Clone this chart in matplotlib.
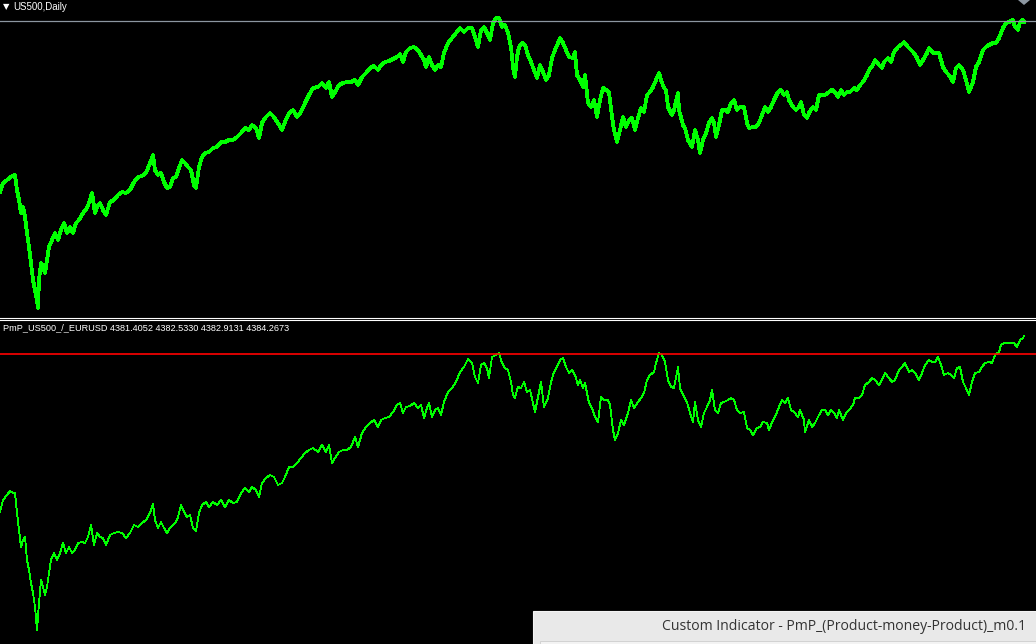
import matplotlib
matplotlib.use("Agg")
import matplotlib.pyplot as plt
from matplotlib.lines import Line2D
from matplotlib.patches import Rectangle, Polygon

# US500 daily closes (estimated), x = bar number from the left edge
top_day = [0, 3, 7, 12, 15, 17, 19, 21, 23, 25, 27, 29, 31, 33, 35, 37, 38, 39, 41, 43,
           45, 47, 49, 52, 55, 58, 61, 64, 67, 70, 73, 76, 79, 83, 87, 90, 92, 95, 97, 100,
           103, 106, 110, 114, 118, 122, 126, 130, 134, 138, 142, 146, 150, 153, 155, 158, 161, 164, 167, 170,
           173, 176, 179, 182, 185, 188, 191, 194, 196, 199, 202, 205, 209, 213, 217, 221, 225, 229, 233, 237,
           241, 245, 249, 252, 256, 259, 262, 266, 270, 274, 278, 282, 285, 289, 293, 297, 301, 305, 309, 313,
           318, 322, 326, 329, 332, 335, 339, 343, 347, 351, 355, 358, 362, 366, 370, 374, 378, 381, 385, 389,
           393, 397, 400, 403, 406, 410, 414, 418, 421, 424, 426, 429, 432, 435, 438, 441, 444, 448, 452, 456,
           460, 464, 468, 472, 475, 478, 481, 484, 487, 490, 493, 496, 499, 502, 505, 508, 511, 513, 515, 517,
           519, 522, 525, 528, 531, 534, 537, 540, 543, 546, 549, 552, 555, 558, 560, 563, 566, 569, 573, 575,
           577, 580, 583, 585, 588, 591, 594, 597, 600, 603, 606, 609, 612, 614, 617, 620, 623, 626, 629, 632,
           635, 638, 641, 644, 647, 650, 653, 656, 659, 661, 664, 666, 668, 672, 674, 678, 679, 683, 685, 688,
           692, 695, 698, 700, 703, 706, 709, 712, 714, 716, 719, 722, 725, 728, 731, 734, 737, 740, 744, 747,
           749, 753, 756, 759, 762, 765, 768, 771, 774, 778, 781, 784, 787, 789, 793, 796, 799, 801, 804, 807,
           809, 813, 816, 819, 823, 825, 829, 832, 835, 838, 841, 844, 847, 850, 854, 857, 860, 863, 867, 869,
           873, 875, 879, 882, 884, 888, 891, 894, 898, 901, 904, 908, 911, 914, 917, 920, 923, 927, 929, 933,
           936, 939, 943, 946, 949, 953, 956, 959, 963, 966, 969, 973, 976, 979, 983, 986, 989, 993, 996, 999,
           1003, 1006, 1009, 1013, 1015, 1018, 1020, 1023, 1024]
top_close = [3207, 3288, 3315, 3351, 3360, 3225, 3135, 3018, 3072, 2982, 2838, 2712, 2568, 2415, 2325, 2235, 2163, 2415, 2568, 2532,
             2478, 2595, 2712, 2775, 2838, 2775, 2865, 2928, 2838, 2892, 2838, 2928, 2955, 3018, 3063, 3135, 3198, 3018, 3072, 3108,
             3045, 3000, 3117, 3135, 3180, 3207, 3198, 3225, 3297, 3342, 3351, 3378, 3468, 3540, 3405, 3360, 3378, 3297, 3243, 3252,
             3333, 3342, 3423, 3495, 3468, 3432, 3405, 3270, 3243, 3432, 3522, 3558, 3567, 3603, 3612, 3657, 3657, 3675, 3675, 3702,
             3738, 3783, 3765, 3810, 3783, 3693, 3828, 3882, 3918, 3882, 3828, 3765, 3837, 3918, 3945, 3882, 3927, 4008, 4080, 4143,
             4152, 4188, 4143, 4197, 4062, 4107, 4170, 4188, 4197, 4197, 4215, 4170, 4242, 4278, 4323, 4341, 4305, 4350, 4377, 4386,
             4404, 4422, 4449, 4377, 4467, 4503, 4512, 4485, 4440, 4395, 4332, 4422, 4350, 4305, 4350, 4332, 4458, 4548, 4593, 4638,
             4683, 4647, 4683, 4683, 4602, 4512, 4665, 4692, 4638, 4575, 4728, 4773, 4773, 4692, 4710, 4638, 4512, 4332, 4242, 4422,
             4512, 4548, 4530, 4440, 4377, 4305, 4233, 4350, 4287, 4215, 4260, 4413, 4485, 4548, 4593, 4548, 4485, 4422, 4413, 4467,
             4260, 4215, 4152, 4260, 4008, 3972, 4035, 3882, 4035, 4143, 4125, 4107, 3882, 3765, 3657, 3765, 3882, 3792, 3855, 3873,
             3765, 3873, 3963, 3927, 4080, 4107, 4152, 4215, 4278, 4215, 4143, 4125, 3972, 3900, 3945, 4098, 3945, 3810, 3783, 3675,
             3612, 3765, 3675, 3558, 3675, 3738, 3828, 3873, 3828, 3702, 3810, 3945, 3945, 3927, 4008, 4035, 3945, 3972, 3972, 3828,
             3783, 3792, 3792, 3828, 3900, 3972, 3927, 3972, 4035, 4107, 4125, 4080, 4107, 4035, 3972, 3945, 3972, 4017, 3900, 3873,
             3918, 3972, 3945, 4080, 4080, 4080, 4107, 4125, 4107, 4062, 4125, 4080, 4107, 4107, 4143, 4125, 4170, 4197, 4260, 4305,
             4350, 4395, 4350, 4323, 4377, 4413, 4377, 4467, 4512, 4530, 4557, 4512, 4485, 4458, 4413, 4350, 4395, 4458, 4503, 4458,
             4458, 4458, 4332, 4287, 4260, 4197, 4323, 4350, 4305, 4215, 4107, 4197, 4332, 4377, 4485, 4512, 4530, 4548, 4548, 4593,
             4683, 4728, 4737, 4755, 4692, 4665, 4737, 4755, 4737]
bid_price = 4746

# PmP_US500_/_EURUSD indicator (estimated)
sub_day = [0, 3, 7, 10, 13, 15, 17, 19, 21, 23, 25, 27, 29, 31, 33, 35, 37, 39, 41, 43,
           45, 47, 49, 51, 54, 57, 60, 63, 66, 69, 72, 75, 78, 82, 85, 88, 91, 94, 97, 100,
           103, 106, 110, 114, 118, 122, 126, 130, 134, 138, 142, 146, 150, 153, 155, 158, 161, 164, 167, 170,
           173, 176, 178, 181, 184, 187, 190, 193, 196, 199, 202, 206, 209, 213, 217, 221, 225, 229, 233, 237,
           241, 245, 249, 252, 256, 259, 262, 266, 270, 274, 278, 282, 285, 289, 293, 297, 301, 305, 309, 313,
           318, 322, 326, 329, 332, 335, 339, 343, 347, 351, 355, 358, 362, 366, 370, 374, 378, 381, 385, 389,
           393, 397, 400, 403, 406, 410, 414, 418, 421, 424, 427, 429, 432, 435, 438, 441, 444, 448, 452, 456,
           460, 464, 468, 472, 475, 478, 481, 484, 487, 489, 492, 496, 499, 502, 505, 508, 511, 513, 515, 517,
           518, 521, 524, 527, 530, 533, 535, 538, 541, 544, 548, 551, 554, 557, 560, 563, 566, 569, 572, 575,
           578, 580, 583, 585, 589, 592, 595, 598, 601, 604, 608, 610, 613, 615, 618, 621, 624, 628, 631, 634,
           638, 641, 644, 647, 650, 654, 656, 659, 662, 665, 668, 671, 674, 678, 680, 684, 687, 690, 693, 695,
           698, 701, 704, 707, 710, 712, 715, 718, 721, 724, 728, 731, 734, 737, 740, 744, 747, 750, 753, 757,
           760, 763, 767, 769, 773, 775, 779, 782, 785, 788, 791, 794, 798, 800, 804, 805, 809, 812, 815, 819,
           822, 825, 828, 831, 834, 837, 839, 843, 846, 849, 853, 855, 859, 862, 865, 869, 872, 875, 879, 882,
           885, 889, 892, 895, 899, 902, 905, 909, 912, 915, 919, 922, 925, 929, 932, 935, 938, 941, 944, 948,
           951, 954, 957, 960, 963, 966, 969, 972, 975, 979, 982, 985, 989, 992, 995, 999, 1001, 1004, 1008, 1011,
           1014, 1017, 1020, 1023, 1024]
sub_value = [2976, 3072, 3112, 3144, 3128, 3128, 2968, 2832, 2696, 2752, 2776, 2592, 2512, 2408, 2328, 2216, 2032, 2248, 2432, 2376,
             2312, 2376, 2488, 2592, 2648, 2592, 2648, 2728, 2648, 2696, 2648, 2672, 2728, 2736, 2728, 2776, 2872, 2712, 2808, 2776,
             2768, 2712, 2792, 2808, 2816, 2808, 2768, 2808, 2872, 2856, 2888, 2912, 2968, 3040, 2912, 2848, 2896, 2848, 2808, 2848,
             2872, 2896, 2936, 3032, 2976, 2936, 2952, 2848, 2824, 2968, 3032, 3056, 3016, 3056, 3032, 3072, 3016, 3072, 3048, 3056,
             3128, 3168, 3136, 3176, 3152, 3096, 3208, 3248, 3272, 3256, 3192, 3208, 3256, 3336, 3336, 3368, 3408, 3448, 3472, 3488,
             3456, 3512, 3456, 3512, 3368, 3408, 3456, 3472, 3472, 3496, 3576, 3496, 3608, 3656, 3688, 3712, 3656, 3712, 3728, 3736,
             3776, 3832, 3848, 3768, 3816, 3824, 3848, 3808, 3832, 3728, 3808, 3848, 3736, 3792, 3808, 3752, 3856, 3936, 3968, 4016,
             4096, 4136, 4200, 4168, 4056, 4008, 4152, 4168, 4128, 4048, 4216, 4232, 4248, 4168, 4128, 4112, 4016, 3912, 3888, 3952,
             3976, 3968, 4016, 3936, 3952, 3848, 3776, 3896, 4016, 3816, 3888, 4016, 4096, 4136, 4192, 4208, 4136, 4088, 4112, 4072,
             3992, 4032, 3968, 4008, 3848, 3808, 3736, 3696, 3896, 3872, 3872, 3832, 3632, 3552, 3608, 3712, 3672, 3768, 3872, 3808,
             3856, 3888, 3928, 4032, 4072, 4096, 4168, 4248, 4232, 4176, 4032, 3976, 3968, 4136, 3968, 3896, 3856, 3768, 3696, 3856,
             3712, 3656, 3768, 3816, 3872, 3952, 3792, 3768, 3848, 3856, 3872, 3888, 3872, 3792, 3768, 3776, 3648, 3632, 3592, 3648,
             3656, 3696, 3688, 3632, 3712, 3736, 3816, 3872, 3848, 3888, 3792, 3776, 3736, 3792, 3712, 3616, 3712, 3656, 3688, 3752,
             3792, 3792, 3752, 3792, 3768, 3728, 3792, 3712, 3768, 3792, 3832, 3888, 3888, 3912, 3992, 4016, 4048, 4032, 3992, 4032,
             4088, 4048, 4016, 4032, 4112, 4136, 4168, 4096, 4112, 4088, 4032, 4088, 4152, 4192, 4176, 4176, 4216, 4152, 4072, 4088,
             4072, 4048, 4128, 4136, 4016, 3968, 3912, 4016, 4088, 4096, 4136, 4168, 4176, 4168, 4232, 4256, 4312, 4328, 4328, 4328,
             4328, 4296, 4352, 4368, 4384]
sub_level = 4240
sub_header = [4381.4052, 4382.5330, 4382.9131, 4384.2673]

W, H = 1036, 644
fig = plt.figure(figsize=(W / 100, H / 100), dpi=100, facecolor="black")


def fx(x):
    return x / W


def fy(y):
    return 1 - y / H


def panel(y0, y1):
    ax = fig.add_axes([0, fy(y1), 1, (y1 - y0) / H])
    ax.set_axis_off()
    ax.set_xlim(0, W)
    return ax


# main chart
ax_top = panel(0, 316)
ax_top.plot(top_day, top_close, color="#00ff00", lw=2.0, antialiased=False)
ax_top.axhline(bid_price, color="#8c96a0", lw=0.9)
ax_top.set_ylim(2091, 4935)

# indicator window
ax_sub = panel(320, H)
ax_sub.plot(sub_day, sub_value, color="#00ff00", lw=0.6, antialiased=False)
ax_sub.axhline(sub_level, color="#ff0000", lw=1.2)
ax_sub.set_ylim(1920, 4512)

# window separator
for y in (317.5, 319.5):
    fig.add_artist(Line2D([0, 1], [fy(y), fy(y)], color="white", lw=0.8,
                          transform=fig.transFigure))

label_font = dict(family="Liberation Sans", color="white", va="center")
fig.text(fx(3), fy(7), "\u25bc", fontsize=6, family="DejaVu Sans", color="white", va="center")
fig.text(fx(13), fy(7), "US500,Daily", fontsize=7, **label_font)
fig.text(fx(3), fy(328),
         "PmP_US500_/_EURUSD " + " ".join(f"{v:.4f}" for v in sub_header),
         fontsize=6.6, **label_font)

# chart shift marker, top right
fig.add_artist(Polygon([(fx(1018), fy(0)), (fx(1030), fy(0)), (fx(1024), fy(5))],
                       closed=True, transform=fig.transFigure,
                       facecolor="#8c96a0", edgecolor="none"))

# status box, bottom right
fig.add_artist(Rectangle((fx(533), 0), 1 - fx(533), fy(611), transform=fig.transFigure,
                         facecolor="#e9e9e9", edgecolor="#f4f4f4", lw=0.8))
fig.add_artist(Rectangle((fx(540), 0), 1 - fx(540), fy(641), transform=fig.transFigure,
                         facecolor="#f3f3f3", edgecolor="#d2d2d2", lw=0.7))
fig.text(fx(1026), fy(627), "Custom Indicator - PmP_(Product-money-Product)_m0.1",
         ha="right", va="center", fontsize=10.1, family="Open Sans", color="#333333")

fig.savefig("out.png", dpi=100, facecolor="black")
